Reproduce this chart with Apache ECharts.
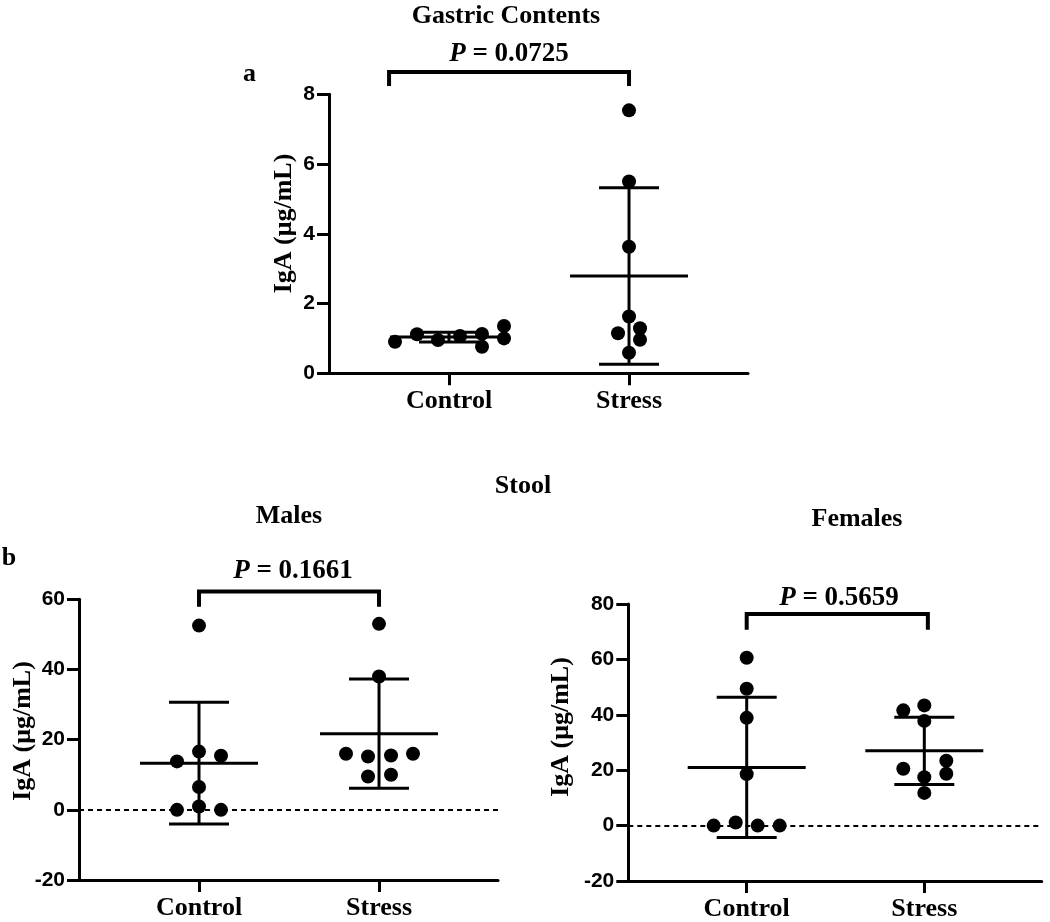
<!DOCTYPE html>
<html>
<head>
<meta charset="utf-8">
<script src="https://cdn.jsdelivr.net/npm/echarts@6/dist/echarts.min.js"></script>
<style>
html,body{margin:0;padding:0;background:#fff;}
#chart{width:1050px;height:922px;}
</style>
</head>
<body>
<div id="chart"></div>
<script>
// ---- data ----
const categories = ['Control', 'Stress'];

const gastricControl = [0.905, 1.12, 0.955, 1.07, 1.13, 0.76, 1.355, 1.00];
const gastricStress  = [7.54, 5.50, 3.63, 1.63, 1.29, 1.15, 0.96, 0.59];
const gastricMean = [1.04, 2.79];
const gastricSD   = [0.14, 2.53];

const malesControl = [52.5, 13.8, 16.6, 15.4, 6.5, 0.0, 0.95, 0.0];
const malesStress  = [53.0, 38.0, 16.0, 15.2, 15.5, 16.0, 9.5, 10.0];
const malesMean = [13.3, 21.7];
const malesSD   = [17.35, 15.55];

const femalesControl = [60.6, 49.4, 38.9, 18.6, 0.0, 1.1, 0.0, 0.0];
const femalesStress  = [41.6, 43.4, 37.8, 20.5, 23.4, 18.7, 17.5, 11.8];
const femalesMean = [21.0, 27.0];
const femalesSD   = [25.3, 12.15];

const pValues = ['0.0725', '0.1661', '0.5659'];
const yTicksGastric = [0, 2, 4, 6, 8];
const yTicksMales   = [-20, 0, 20, 40, 60];
const yTicksFemales = [-20, 0, 20, 40, 60, 80];

// ---- layout (horizontal jitter of dots, in px) ----
const jitter = {
  gastricControl: [-54, -32, -11, 11, 33, 33, 55, 55],
  gastricStress:  [0, 0, 0, 0, 11, -11, 11, 0],
  malesControl:   [0, -22, 0, 22, 0, -22, 0, 22],
  malesStress:    [0, 0, -33, -11, 12, 34, -11, 12],
  femalesControl: [0, 0, 0, 0, -33, -11, 11, 33],
  femalesStress:  [-21, 0, 0, -21, 22, 22, 0, 0]
};

const SERIF = '"Liberation Serif", "Times New Roman", serif';
const SANS = '"Liberation Sans", Arial, sans-serif';

const chart = echarts.init(document.getElementById('chart'), null, {renderer: 'canvas'});

const grids = [
  {left: 329, top: 94.3, width: 419, height: 279},
  {left: 79, top: 599.3, width: 419, height: 280.7},
  {left: 628.3, top: 604, width: 413.4, height: 279.3}
];
const yTickSets = [yTicksGastric, yTicksMales, yTicksFemales];

const xAxes = grids.map((g, i) => ({
  type: 'value', gridIndex: i, min: 1/3, max: 2.661,
  axisLine: {show: true, onZero: false, lineStyle: {color: '#000', width: 3}},
  axisTick: {show: true, length: 12, lineStyle: {color: '#000', width: 3}, customValues: [1, 2]},
  axisLabel: {
    show: true, customValues: [1, 2], margin: 15,
    formatter: v => categories[Math.round(v) - 1] || '',
    fontFamily: SERIF, fontWeight: 'bold', fontSize: 26, color: '#000'
  },
  splitLine: {show: false}
}));

const yAxes = yTickSets.map((t, i) => ({
  type: 'value', gridIndex: i, min: t[0], max: t[t.length - 1], interval: t[1] - t[0],
  axisLine: {show: true, onZero: false, lineStyle: {color: '#000', width: 3}},
  axisTick: {show: true, length: 12, lineStyle: {color: '#000', width: 3}},
  axisLabel: {margin: 14, fontFamily: SANS, fontWeight: 'bold', fontSize: 21, color: '#000'},
  splitLine: {show: false}
}));

function dots(values, jit, cat, gi, zeroLine) {
  const s = {
    type: 'scatter', xAxisIndex: gi, yAxisIndex: gi,
    symbol: 'circle', symbolSize: 14, z: 5,
    itemStyle: {color: '#000', opacity: 1},
    data: values.map((v, k) => ({value: [cat, v], symbolOffset: [jit[k], 0]}))
  };
  if (zeroLine) {
    s.markLine = {
      silent: true, symbol: 'none', label: {show: false}, animation: false,
      lineStyle: {color: '#000', width: 2.2, type: [5, 4], opacity: 1},
      data: [{yAxis: 0}]
    };
  }
  return s;
}

function errorBars(means, sds, gi) {
  return {
    type: 'custom', xAxisIndex: gi, yAxisIndex: gi, z: 4,
    data: means.map((m, k) => [k + 1, m, sds[k]]),
    renderItem: (params, api) => {
      const x = api.value(0), m = api.value(1), s = api.value(2);
      const pm = api.coord([x, m]);
      const pt = api.coord([x, m + s]);
      const pb = api.coord([x, m - s]);
      const st = {stroke: '#000', lineWidth: 3};
      return {type: 'group', children: [
        {type: 'line', shape: {x1: pm[0] - 59, y1: pm[1], x2: pm[0] + 59, y2: pm[1]}, style: st},
        {type: 'line', shape: {x1: pt[0], y1: pt[1], x2: pb[0], y2: pb[1]}, style: st},
        {type: 'line', shape: {x1: pt[0] - 30, y1: pt[1], x2: pt[0] + 30, y2: pt[1]}, style: st},
        {type: 'line', shape: {x1: pb[0] - 30, y1: pb[1], x2: pb[0] + 30, y2: pb[1]}, style: st}
      ]};
    }
  };
}

function bracket(x1, x2, yBar, yLeg, gi) {
  return {
    type: 'custom', xAxisIndex: gi, yAxisIndex: gi, z: 4, clip: false,
    data: [[x1, x2, yBar, yLeg]],
    renderItem: (params, api) => {
      const a = api.coord([api.value(0), api.value(2)]);
      const b = api.coord([api.value(1), api.value(2)]);
      const al = api.coord([api.value(0), api.value(3)]);
      const bl = api.coord([api.value(1), api.value(3)]);
      return {type: 'polyline', shape: {points: [al, a, b, bl]},
        style: {stroke: '#000', lineWidth: 4, fill: null, lineJoin: 'miter'}};
    }
  };
}

function txt(text, x, y, size) {
  return {type: 'text', x: x, y: y, style: {text: text, font: 'bold ' + (size || 26) + 'px ' + SERIF,
    fill: '#000', textAlign: 'center', textVerticalAlign: 'middle'}};
}
function ptxt(p, x, y) {
  return {type: 'text', x: x, y: y, style: {
    text: '{i|P}{n| = ' + p + '}',
    textAlign: 'center', textVerticalAlign: 'middle',
    rich: {
      i: {font: 'italic bold 27px ' + SERIF, fill: '#000'},
      n: {font: 'bold 27px ' + SERIF, fill: '#000'}
    }
  }};
}
function ylab(x, y) {
  return {type: 'text', x: x, y: y, rotation: Math.PI / 2, style: {text: 'IgA (μg/mL)',
    font: 'bold 26px ' + SERIF, fill: '#000', textAlign: 'center', textVerticalAlign: 'middle'}};
}

const option = {
  backgroundColor: '#fff',
  animation: false,
  grid: grids.map(g => Object.assign({containLabel: false}, g)),
  xAxis: xAxes,
  yAxis: yAxes,
  series: [
    errorBars(gastricMean, gastricSD, 0),
    dots(gastricControl, jitter.gastricControl, 1, 0, false),
    dots(gastricStress, jitter.gastricStress, 2, 0, false),
    bracket(0.667, 2, 8.64, 8.24, 0),

    errorBars(malesMean, malesSD, 1),
    dots(malesControl, jitter.malesControl, 1, 1, true),
    dots(malesStress, jitter.malesStress, 2, 1, false),
    bracket(1, 2, 62.2, 57.9, 1),

    errorBars(femalesMean, femalesSD, 2),
    dots(femalesControl, jitter.femalesControl, 1, 2, true),
    dots(femalesStress, jitter.femalesStress, 2, 2, false),
    bracket(1, 2.02, 76.4, 70.7, 2)
  ],
  graphic: [
    txt('Gastric Contents', 506, 16.5),
    ptxt(pValues[0], 509, 54.5),
    txt('a', 249.5, 74.5),
    ylab(284, 223.5),
    txt('Stool', 523, 486.5),
    txt('Males', 289, 516.5),
    txt('Females', 857, 519.5),
    txt('b', 9, 558.5),
    ptxt(pValues[1], 293, 571.5),
    ptxt(pValues[2], 839, 598.5),
    ylab(23, 731),
    ylab(561, 727)
  ]
};
chart.setOption(option);
</script>
</body>
</html>
